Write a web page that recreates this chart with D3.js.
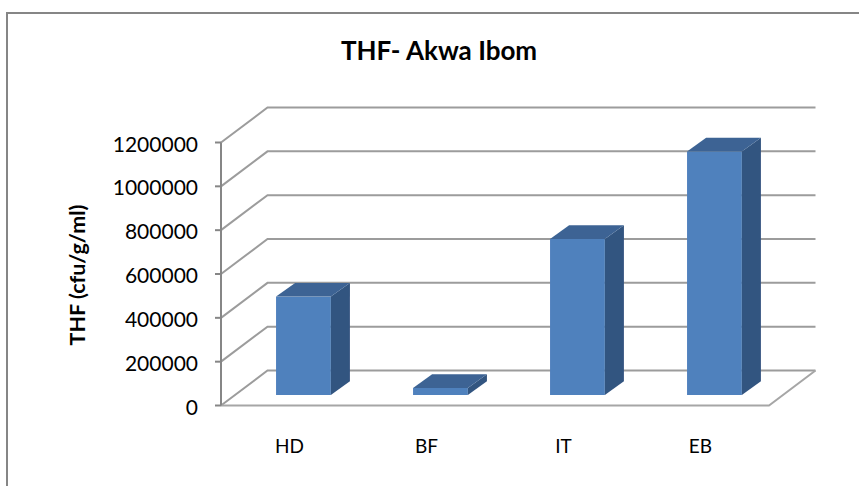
<!DOCTYPE html>
<html>
<head>
<meta charset="utf-8">
<script src="https://cdn.jsdelivr.net/npm/d3@7"></script>
<style>
body { margin: 0; background: #fff; }
text { font-family: Lato, "Open Sans", sans-serif; fill: #000; }
</style>
</head>
<body>
<div id="chart"></div>
<script>
const categories = ['HD', 'BF', 'IT', 'EB'];
const thfValues = [449000, 32000, 712000, 1111000];
const yTicks = [0, 200000, 400000, 600000, 800000, 1000000, 1200000];

const width = 859, height = 486;
const plot = { left: 221, right: 769, top: 142.5, bottom: 405.5 };
// how far the back wall sits from the front of the floor
const depth = { x: 46.5, y: -35 };

const svg = d3.select('#chart')
    .append('svg')
    .style('display', 'block')
    .attr('width', width)
    .attr('height', height);

const defs = svg.append('defs');
defs.append('filter').attr('id', 'soft')
    .append('feGaussianBlur').attr('stdDeviation', 0.6);

// frame: the picture is cropped, only top and left edges show
svg.append('polyline')
    .attr('fill', 'none')
    .attr('stroke', '#868686')
    .attr('stroke-width', 2)
    .attr('points', [[7, 486], [7, 13], [859, 13]].join(' '));

const xScale = d3.scaleBand()
    .domain(categories)
    .range([plot.left, plot.right])
    .paddingInner(0.6)
    .paddingOuter(0.3);

const yScale = d3.scaleLinear()
    .domain([0, 1200000])
    .range([plot.bottom, plot.top]);

const chart = svg.append('g').attr('filter', 'url(#soft)');

// gridlines: slanted part on the side wall, then along the back wall
chart.selectAll('.grid')
    .data(yTicks)
    .enter()
    .append('polyline')
    .attr('class', 'grid')
    .attr('fill', 'none')
    .attr('stroke', '#9c9c9c')
    .attr('stroke-width', 2)
    .attr('points', d => {
        const y = yScale(d);
        return [[plot.left, y], [plot.left + depth.x, y + depth.y], [plot.right + depth.x, y + depth.y]].join(' ');
    });

// floor
chart.append('polyline')
    .attr('fill', 'none')
    .attr('stroke', '#a6a6a6')
    .attr('stroke-width', 2)
    .attr('points', [
        [plot.left, plot.bottom],
        [plot.right, plot.bottom],
        [plot.right + depth.x, plot.bottom + depth.y]
    ].join(' '));

// y axis line and ticks
chart.append('line')
    .attr('x1', plot.left).attr('x2', plot.left)
    .attr('y1', plot.top).attr('y2', plot.bottom)
    .attr('stroke', '#868686')
    .attr('stroke-width', 2);

chart.selectAll('.tick-mark')
    .data(yTicks)
    .enter()
    .append('line')
    .attr('class', 'tick-mark')
    .attr('x1', plot.left - 6).attr('x2', plot.left)
    .attr('y1', d => yScale(d)).attr('y2', d => yScale(d))
    .attr('stroke', '#868686')
    .attr('stroke-width', 2);

// bars stand a bit behind the front of the floor
const barShift = { x: depth.x * 0.3, y: depth.y * 0.3 };
const barDepth = { x: depth.x * 0.41, y: depth.y * 0.39 };

const bars = chart.selectAll('.bar')
    .data(categories.map((c, i) => ({ cat: c, value: thfValues[i] })))
    .enter()
    .append('g')
    .attr('class', 'bar')
    .attr('transform', `translate(${barShift.x},${barShift.y})`);

bars.append('rect')
    .attr('x', d => xScale(d.cat))
    .attr('y', d => yScale(d.value))
    .attr('width', xScale.bandwidth())
    .attr('height', d => yScale(0) - yScale(d.value))
    .attr('fill', '#4f81bd');

// right side
bars.append('path')
    .attr('fill', '#335480')
    .attr('d', d => {
        const x = xScale(d.cat) + xScale.bandwidth();
        const t = yScale(d.value), b = yScale(0);
        return `M${x},${t}L${x + barDepth.x},${t + barDepth.y}L${x + barDepth.x},${b + barDepth.y}L${x},${b}Z`;
    });

// top
bars.append('path')
    .attr('fill', '#3c6494')
    .attr('d', d => {
        const x = xScale(d.cat), w = xScale.bandwidth();
        const t = yScale(d.value);
        return `M${x},${t}L${x + barDepth.x},${t + barDepth.y}L${x + w + barDepth.x},${t + barDepth.y}L${x + w},${t}Z`;
    });

// labels
svg.selectAll('.y-label')
    .data(yTicks)
    .enter()
    .append('text')
    .attr('class', 'y-label')
    .attr('x', 198)
    .attr('y', d => yScale(d) + 9)
    .attr('text-anchor', 'end')
    .style('font-size', '21px')
    .text(d => d);

svg.selectAll('.x-label')
    .data(categories)
    .enter()
    .append('text')
    .attr('class', 'x-label')
    .attr('x', d => xScale(d) + xScale.bandwidth() / 2)
    .attr('y', 453)
    .attr('text-anchor', 'middle')
    .style('font-size', '19px')
    .text(d => d);

svg.append('text')
    .attr('x', 439)
    .attr('y', 60)
    .attr('text-anchor', 'middle')
    .style('font-size', '26px')
    .style('font-weight', 700)
    .text('THF- Akwa Ibom');

svg.append('text')
    .attr('transform', 'translate(85,275) rotate(-90)')
    .attr('text-anchor', 'middle')
    .style('font-size', '21.5px')
    .style('font-weight', 700)
    .text('THF (cfu/g/ml)');
</script>
</body>
</html>
